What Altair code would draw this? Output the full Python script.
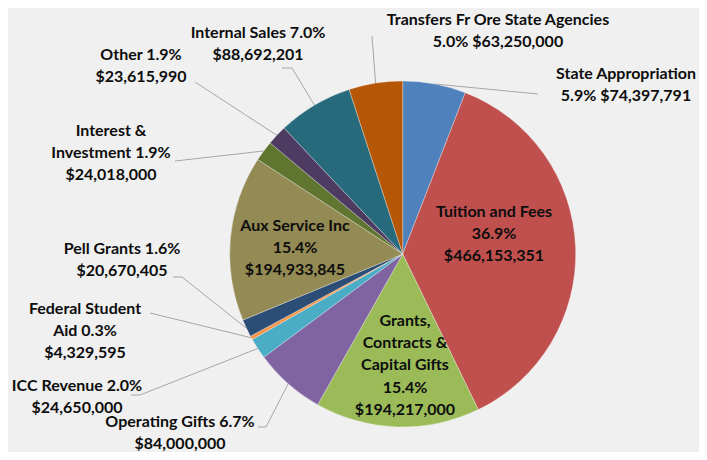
import altair as alt
import pandas as pd

# ---- data ----
categories = [
    "State Appropriation", "Tuition and Fees", "Grants, Contracts & Capital Gifts",
    "Operating Gifts", "ICC Revenue", "Federal Student Aid", "Pell Grants",
    "Aux Service Inc", "Interest & Investment", "Other", "Internal Sales",
    "Transfers Fr Ore State Agencies",
]
values = [
    74397791, 466153351, 194217000, 84000000, 24650000, 4329595, 20670405,
    194933845, 24018000, 23615990, 88692201, 63250000,
]
colors = [
    "#4F81BD", "#C0504D", "#9BBB59", "#8064A2", "#4BACC6", "#F79646", "#2C4D75",
    "#948A54", "#5F7530", "#4D3B62", "#276A7C", "#B65708",
]
# label line templates ({p} = percent, {v} = dollar value)
label_lines = [
    ["State Appropriation", "{p} {v}"],
    ["Tuition and Fees", "{p}", "{v}"],
    ["Grants,", "Contracts &", "Capital Gifts", "{p}", "{v}"],
    ["Operating Gifts {p}", "{v}"],
    ["ICC Revenue {p}", "{v}"],
    ["Federal Student", "Aid {p}", "{v}"],
    ["Pell Grants {p}", "{v}"],
    ["Aux Service Inc", "{p}", "{v}"],
    ["Interest &", "Investment {p}", "{v}"],
    ["Other {p}", "{v}"],
    ["Internal Sales {p}", "{v}"],
    ["Transfers Fr Ore State Agencies", "{p} {v}"],
]

# ---- layout (page pixel coordinates, converted below) ----
OFF = 8
CX, CY, R = 402.7 - OFF, 254 - OFF, 173
LINE_H = 22.2
label_anchor = [  # centre x, first-line y
    (626, 74), (494, 212), (405, 321), (180, 422), (77, 386), (85, 309),
    (122, 249), (295, 226), (111, 131), (141, 55), (258, 33), (498, 20),
]
leader = [  # (elbow x, elbow y, end x, end y) or None for inside labels
    (538, 94, 538, 94), None, None, (266, 427, 258, 427), (140, 395, 131, 395),
    (150, 313, 150, 313), (182, 277, 173, 277), None, (175, 161, 175, 161),
    (195, 82, 195, 82), (292, 68, 282, 68), (372, 36, 372, 36),
]

total = sum(values)
pie_df = pd.DataFrame({
    "cat": categories, "value": values, "order": list(range(len(values))),
})

rows = []
for i, (c, v) in enumerate(zip(categories, values)):
    p = f"{100 * v / total:.1f}%"
    vs = f"${v:,.0f}"
    cx, y0 = label_anchor[i]
    for j, t in enumerate(label_lines[i]):
        rows.append({"cat": c, "text": t.format(p=p, v=vs),
                     "x": cx - OFF, "y": y0 - OFF + j * LINE_H})
text_df = pd.DataFrame(rows)

lead_rows = []
for i, (c, v) in enumerate(zip(categories, values)):
    L = leader[i]
    lead_rows.append({
        "cat": c, "value": v, "order": i,
        "bx": L[0] - OFF if L else None, "by": L[1] - OFF if L else None,
        "ex2": L[2] - OFF if L else None, "ey2": L[3] - OFF if L else None,
    })
lead_df = pd.DataFrame(lead_rows)

color_scale = alt.Scale(domain=categories, range=colors)

pie = alt.Chart(pie_df).mark_arc(
    outerRadius=R, stroke="#ffffff", strokeWidth=0.6, strokeOpacity=0.5
).encode(
    theta=alt.Theta("value:Q", stack=True),
    order=alt.Order("order:Q"),
    color=alt.Color("cat:N", scale=color_scale, legend=None),
    x=alt.value(CX), y=alt.value(CY),
)

lead_base = alt.Chart(lead_df).transform_joinaggregate(
    total="sum(value)"
).transform_window(
    cum="sum(value)", sort=[alt.SortField("order")], frame=[None, 0]
).transform_calculate(
    mid="(datum.cum - datum.value / 2) / datum.total * 2 * PI",
).transform_calculate(
    px=f"{CX} + {R} * sin(datum.mid)",
    py=f"{CY} - {R} * cos(datum.mid)",
).transform_filter("isValid(datum.bx)")

rule1 = lead_base.mark_rule(color="#a6a6a6", strokeWidth=1).encode(
    x=alt.X("px:Q", scale=None), y=alt.Y("py:Q", scale=None),
    x2="bx:Q", y2="by:Q",
)
rule2 = lead_base.mark_rule(color="#a6a6a6", strokeWidth=1).encode(
    x=alt.X("bx:Q", scale=None), y=alt.Y("by:Q", scale=None),
    x2="ex2:Q", y2="ey2:Q",
)

texts = alt.Chart(text_df).mark_text(
    font="Lato", fontWeight="bold", fontSize=16, color="#0d0d0d",
    align="center", baseline="middle",
).encode(
    x=alt.X("x:Q", scale=None), y=alt.Y("y:Q", scale=None), text="text:N",
)

chart = alt.layer(pie, rule1, rule2, texts).properties(
    width=691, height=444, background="#f0f0f0", padding=0,
    autosize=alt.AutoSizeParams(type="none"),
).configure_view(stroke=None)

chart.save("out.html", embed_options={"renderer": "svg", "actions": False})
